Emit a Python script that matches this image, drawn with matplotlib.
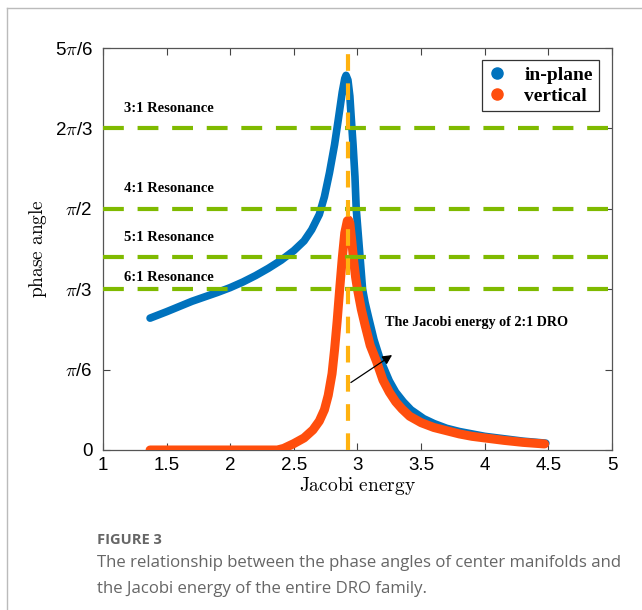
import matplotlib
matplotlib.use('Agg')
import matplotlib.pyplot as plt
from matplotlib.lines import Line2D
import numpy as np

plt.rcParams['mathtext.fontset'] = 'cm'

# phase angles are stored in units of pi/6
inplane_x = [1.37, 1.5, 1.7, 1.9, 2.0, 2.1, 2.2, 2.3, 2.4, 2.5, 2.58, 2.64, 2.7, 2.74, 2.78,
             2.82, 2.85, 2.88, 2.9, 2.91, 2.925, 2.94, 2.95, 2.965, 2.98, 2.99, 3.005, 3.02,
             3.04, 3.06, 3.09, 3.13, 3.18, 3.25, 3.3, 3.36, 3.42, 3.52, 3.6, 3.7, 3.8, 3.9,
             4.0, 4.15, 4.3, 4.48]
inplane_y = [1.64, 1.72, 1.85, 1.96, 2.02, 2.09, 2.17, 2.26, 2.36, 2.48, 2.6, 2.74, 2.93, 3.15, 3.45,
             3.8, 4.12, 4.45, 4.62, 4.66, 4.6, 4.4, 4.15, 3.8, 3.4, 3.0, 2.7, 2.4,
             2.0, 1.83, 1.63, 1.37, 1.12, 0.86, 0.72, 0.6, 0.5, 0.39, 0.33, 0.27, 0.23, 0.2,
             0.17, 0.14, 0.11, 0.085]

vertical_x = [1.37, 2.37, 2.42, 2.5, 2.58, 2.65, 2.7, 2.74, 2.77, 2.8, 2.82, 2.84, 2.86, 2.88,
              2.9, 2.92, 2.93, 2.94, 2.955, 2.97, 2.985, 3.0, 3.03, 3.06, 3.1, 3.15, 3.2, 3.25,
              3.3, 3.35, 3.41, 3.5, 3.6, 3.7, 3.8, 3.9, 4.0, 4.15, 4.3, 4.47]
vertical_y = [0.0, 0.0, 0.02, 0.08, 0.15, 0.25, 0.36, 0.5, 0.68, 0.95, 1.25, 1.6, 2.0, 2.38,
              2.7, 2.85, 2.86, 2.82, 2.6, 2.35, 2.15, 2.0, 1.75, 1.55, 1.3, 1.1, 0.87, 0.72,
              0.6, 0.51, 0.42, 0.34, 0.28, 0.24, 0.2, 0.17, 0.15, 0.12, 0.095, 0.075]

resonance_names = ['3:1 Resonance', '4:1 Resonance', '5:1 Resonance', '6:1 Resonance']
resonance_angles = [2 * np.pi / 3, np.pi / 2, 2 * np.pi / 5, np.pi / 3]
dro21_energy = 2.925

ytick_labels = ['0', r'$\pi$/6', r'$\pi$/3', r'$\pi$/2', r'2$\pi$/3', r'5$\pi$/6']

blue = '#0072BD'
red = '#FF4E0D'
green = '#7FBA00'
gold = '#FFB20F'

fig = plt.figure(figsize=(6.42, 6.10), dpi=100)
ax = fig.add_axes([0.1604, 0.2623, 0.7929, 0.659])

ax.plot(inplane_x, np.array(inplane_y) * np.pi / 6, color=blue, lw=5.5,
        solid_capstyle='round', solid_joinstyle='round', zorder=2)
ax.plot(vertical_x, np.array(vertical_y) * np.pi / 6, color=red, lw=6.5,
        solid_capstyle='round', solid_joinstyle='round', zorder=3)

# label heights above each line (in pi/6 units)
label_gap = [0.25, 0.25, 0.24, 0.15]
for name, ang, gap in zip(resonance_names, resonance_angles, label_gap):
    ax.axhline(ang, color=green, lw=3, dashes=(5, 3.3), zorder=4)
    ax.text(1.165, ang + gap * np.pi / 6, name, family='Liberation Serif', weight='bold',
            fontsize=10.5, va='center', ha='left')

ax.axvline(dro21_energy, color=gold, lw=3, dashes=(4, 3), zorder=5)

ax.annotate('', xy=(3.29, 1.20 * np.pi / 6), xytext=(2.93, 0.82 * np.pi / 6),
            arrowprops=dict(arrowstyle='-|>', color='black', lw=0.9, mutation_scale=14),
            zorder=6)
ax.text(3.22, 1.59 * np.pi / 6, 'The Jacobi energy of 2:1 DRO', family='Liberation Serif',
        weight='bold', fontsize=10.2, va='center', ha='left')

ax.set_xlim(1, 5)
ax.set_ylim(0, 5 * np.pi / 6)
ax.set_xticks([1, 1.5, 2, 2.5, 3, 3.5, 4, 4.5, 5])
ax.set_xticklabels(['1', '1.5', '2', '2.5', '3', '3.5', '4', '4.5', '5'])
ax.set_yticks(np.arange(6) * np.pi / 6)
ax.set_yticklabels(ytick_labels)
ax.tick_params(direction='in', length=5, width=0.8, color='#444444', top=True, right=True,
               labelsize=13.5)
ax.tick_params(axis='x', pad=5)
ax.tick_params(axis='y', pad=7.5)
for lab in ax.get_xticklabels() + ax.get_yticklabels():
    lab.set_family('Liberation Sans')
for sp in ax.spines.values():
    sp.set_color('#555555')
    sp.set_linewidth(0.9)

ax.set_xlabel(r'$\mathrm{Jacobi\ energy}$', fontsize=14, labelpad=1)
ax.set_ylabel(r'$\mathrm{phase\ angle}$', fontsize=14, labelpad=4)

handles = [Line2D([], [], ls='none', marker='o', markersize=8, color=blue),
           Line2D([], [], ls='none', marker='o', markersize=8, color=red)]
leg = ax.legend(handles, ['in-plane', 'vertical'], loc='upper right',
                bbox_to_anchor=(0.974, 0.97), borderaxespad=0, fancybox=False, framealpha=1,
                prop={'family': 'Liberation Serif', 'weight': 'bold', 'size': 14},
                handletextpad=0.9, borderpad=0.3, labelspacing=0.2, handlelength=1.0)
leg.get_frame().set_edgecolor('#333333')
leg.get_frame().set_linewidth(0.9)
leg.set_zorder(10)

# page frame lines
fig.add_artist(Line2D([7 / 642, 1], [1 - 8 / 610, 1 - 8 / 610], color='#BBBBBB', lw=1))
fig.add_artist(Line2D([7 / 642, 7 / 642], [0, 1 - 8 / 610], color='#BBBBBB', lw=1))

fig.text(97 / 642, 1 - 540 / 610, 'FIGURE 3', family='Open Sans', weight='bold',
         fontsize=10.5, color='#666666', va='center')
fig.text(97 / 642, 1 - 563 / 610,
         'The relationship between the phase angles of center manifolds and',
         family='Open Sans', fontsize=12.1, color='#666666', va='center')
fig.text(97 / 642, 1 - 589 / 610, 'the Jacobi energy of the entire DRO family.',
         family='Open Sans', fontsize=12.1, color='#666666', va='center')

fig.savefig('out.png', dpi=100)
